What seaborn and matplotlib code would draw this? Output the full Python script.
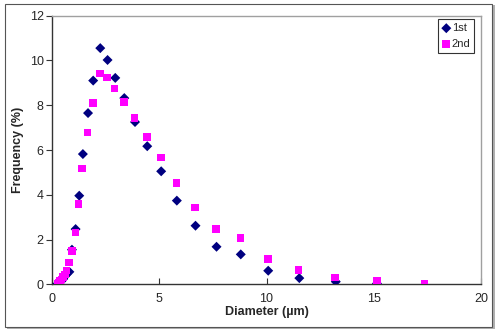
import matplotlib
matplotlib.use("Agg")
import matplotlib.pyplot as plt
import seaborn as sns
import pandas as pd
from matplotlib.patches import Rectangle

diam_1st = [0.25, 0.32, 0.38, 0.45, 0.52, 0.60, 0.68, 0.81, 0.93, 1.10, 1.27, 1.44, 1.68, 1.92,
            2.25, 2.59, 2.95, 3.37, 3.87, 4.44, 5.09, 5.82, 6.69, 7.67, 8.80, 10.08, 11.53, 13.23, 15.15]
freq_1st = [0.02, 0.06, 0.10, 0.16, 0.24, 0.35, 0.45, 0.56, 1.55, 2.47, 3.96, 5.82, 7.65, 9.10,
            10.55, 10.02, 9.22, 8.32, 7.25, 6.17, 5.05, 3.74, 2.62, 1.68, 1.34, 0.61, 0.28, 0.12, 0.04]

diam_2nd = [0.25, 0.32, 0.38, 0.45, 0.52, 0.60, 0.68, 0.79, 0.93, 1.09, 1.24, 1.41, 1.66, 1.92,
            2.24, 2.56, 2.92, 3.35, 3.85, 4.42, 5.08, 5.81, 6.68, 7.65, 8.79, 10.06, 11.50, 13.20, 15.15, 17.37]
freq_2nd = [0.03, 0.08, 0.14, 0.22, 0.32, 0.45, 0.62, 0.97, 1.50, 2.32, 3.59, 5.17, 6.79, 8.11,
            9.41, 9.23, 8.74, 8.15, 7.44, 6.57, 5.67, 4.53, 3.44, 2.47, 2.07, 1.14, 0.64, 0.31, 0.15, 0.01]

x_ticks = [0, 5, 10, 15, 20]
y_ticks = [0, 2, 4, 6, 8, 10, 12]

sns.set_style("white")
plt.rcParams['font.family'] = ['Liberation Sans', 'DejaVu Sans']

fig = plt.figure(figsize=(5, 3.33), dpi=100)
ax = fig.add_axes([0.104, 0.146, 0.858, 0.807])

df1 = pd.DataFrame({"Diameter": diam_1st, "Frequency": freq_1st})
df2 = pd.DataFrame({"Diameter": diam_2nd, "Frequency": freq_2nd})

sns.scatterplot(data=df1, x="Diameter", y="Frequency", ax=ax, marker="D", s=26,
                color="#000080", edgecolor="none", label="1st", zorder=3)
sns.scatterplot(data=df2, x="Diameter", y="Frequency", ax=ax, marker="s", s=30,
                color="#FF00FF", edgecolor="none", label="2nd", zorder=4)

ax.set_xlim(0, 20)
ax.set_ylim(0, 12)
ax.set_xticks(x_ticks)
ax.set_yticks(y_ticks)
ax.set_xlabel("Diameter (µm)", fontsize=9, fontweight="bold", labelpad=1)
ax.set_ylabel("Frequency (%)", fontsize=9, fontweight="bold", labelpad=4)
ax.tick_params(axis="x", direction="in", length=4, width=0.8, color="#333333", labelsize=9, pad=6)
ax.tick_params(axis="y", direction="out", length=4, width=0.8, color="#333333", labelsize=9, pad=2, left=True)
ax.tick_params(axis="x", bottom=True)

for s in ["left", "bottom"]:
    ax.spines[s].set_color("#333333")
    ax.spines[s].set_linewidth(1.0)
for s in ["top", "right"]:
    ax.spines[s].set_color("#a0a0a0")
    ax.spines[s].set_linewidth(1.0)

leg = ax.legend(loc="upper right", bbox_to_anchor=(0.99, 0.995), fontsize=8, frameon=True,
                fancybox=False, handletextpad=0.1, handlelength=0.8, borderpad=0.35,
                labelspacing=0.5, borderaxespad=0.2, markerscale=1.0)
leg.get_frame().set_edgecolor("black")
leg.get_frame().set_linewidth(0.8)

# outer chart border with shadow
W, H = 500, 333
fig.patches.append(Rectangle((7 / W, 4 / H), 488 / W, 324 / H, transform=fig.transFigure,
                             facecolor="#b0b0b0", edgecolor="none", zorder=-2))
fig.patches.append(Rectangle((5 / W, 6 / H), 487 / W, 323 / H, transform=fig.transFigure,
                             facecolor="white", edgecolor="#555555", linewidth=0.8, zorder=-1))

fig.savefig("out.png", dpi=100)
